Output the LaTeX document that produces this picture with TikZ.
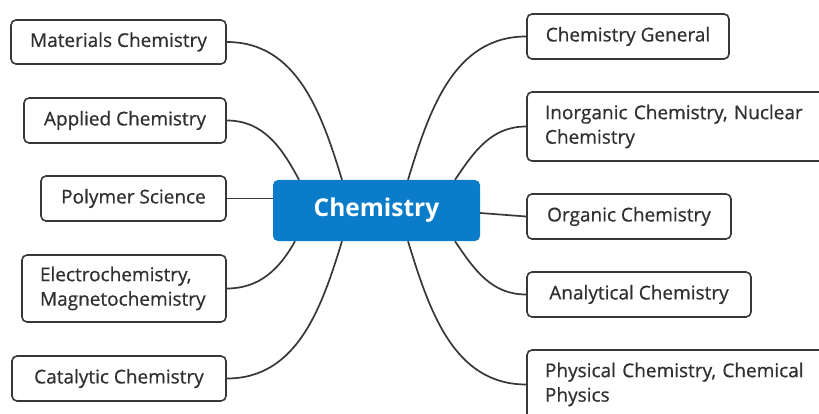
\documentclass[tikz,border=0pt]{standalone}
\usepackage{fontspec}
\setmainfont{Open Sans}
\definecolor{hub}{RGB}{10,124,201}
\definecolor{ink}{RGB}{48,48,48}
\definecolor{edge}{RGB}{55,55,55}
\begin{document}
\begin{tikzpicture}[x=1pt,y=-1pt,
  leaf/.style={draw=edge,line width=1.6pt,rounded corners=5pt,fill=white,text=ink,
    font=\fontsize{19}{24.5}\selectfont\addfontfeatures{FakeBold=0.6},inner sep=0pt},
  leaftwo/.style={leaf,align=left,inner xsep=18pt},
  hubbox/.style={fill=hub,rounded corners=5pt,text=white,font=\fontsize{24.5}{28}\selectfont\bfseries,
    minimum width=207pt,minimum height=61pt,inner sep=0pt},
  link/.style={draw=edge,line width=1.7pt}]
\useasboundingbox (0,0) rectangle (819,414);
\node[hubbox] (c) at (376.5,210.5) {Chemistry};
% left
\node[leaf,minimum width=215pt,minimum height=44pt] (mat) at (118.5,42) {Materials Chemistry};
\node[leaf,minimum width=202pt,minimum height=45pt] (app) at (125,120.5) {Applied Chemistry};
\node[leaf,minimum width=185pt,minimum height=45pt] (poly) at (133.5,198.5) {Polymer Science};
\node[leaftwo,text width=168pt,minimum height=67pt] (elec) at (124,288.5) {Electrochemistry,\\Magnetochemistry};
\node[leaf,minimum width=214pt,minimum height=45pt] (cat) at (119,378.5) {Catalytic Chemistry};
% right
\node[leaf,minimum width=202pt,minimum height=45pt] (gen) at (628,36.5) {Chemistry General};
\node[leaftwo,text width=272pt,minimum height=69pt] (inorg) at (681,126.5) {Inorganic Chemistry, Nuclear\\Chemistry};
\node[leaf,minimum width=204pt,minimum height=45pt] (org) at (629,216.5) {Organic Chemistry};
\node[leaf,minimum width=224pt,minimum height=45pt] (ana) at (639,294.5) {Analytical Chemistry};
\node[leaftwo,text width=272pt,minimum height=69pt] (phys) at (681,384.5) {Physical Chemistry, Chemical\\Physics};
% anchor points on hub
\coordinate (t1) at ([xshift=-77.5pt]c.north);
\coordinate (t2) at ([xshift=-34.5pt]c.north);
\coordinate (t3) at ([xshift=31.5pt]c.north);
\coordinate (t4) at ([xshift=78.5pt]c.north);
\coordinate (b1) at ([xshift=-81.5pt]c.south);
\coordinate (b2) at ([xshift=-34.5pt]c.south);
\coordinate (b3) at ([xshift=31.5pt]c.south);
\coordinate (b4) at ([xshift=78.5pt]c.south);
% connectors
\draw[link] (mat.east) to[out=0,in=107] (t2);
\draw[link] (app.east) to[out=0,in=118] (t1);
\draw[link] (poly.east) -- (poly.east -| c.west);
\draw[link] (elec.east) to[out=0,in=241] (b1);
\draw[link] (cat.east) to[out=0,in=253] (b2);
\draw[link] (t3) to[out=73,in=180] (gen.west);
\draw[link] (t4) to[out=56,in=180] (inorg.west);
\draw[link] ([yshift=-2.5pt]c.east) -- (org.west);
\draw[link] (b4) to[out=304,in=180] (ana.west);
\draw[link] (b3) to[out=287,in=180] (phys.west);
\end{tikzpicture}
\end{document}
